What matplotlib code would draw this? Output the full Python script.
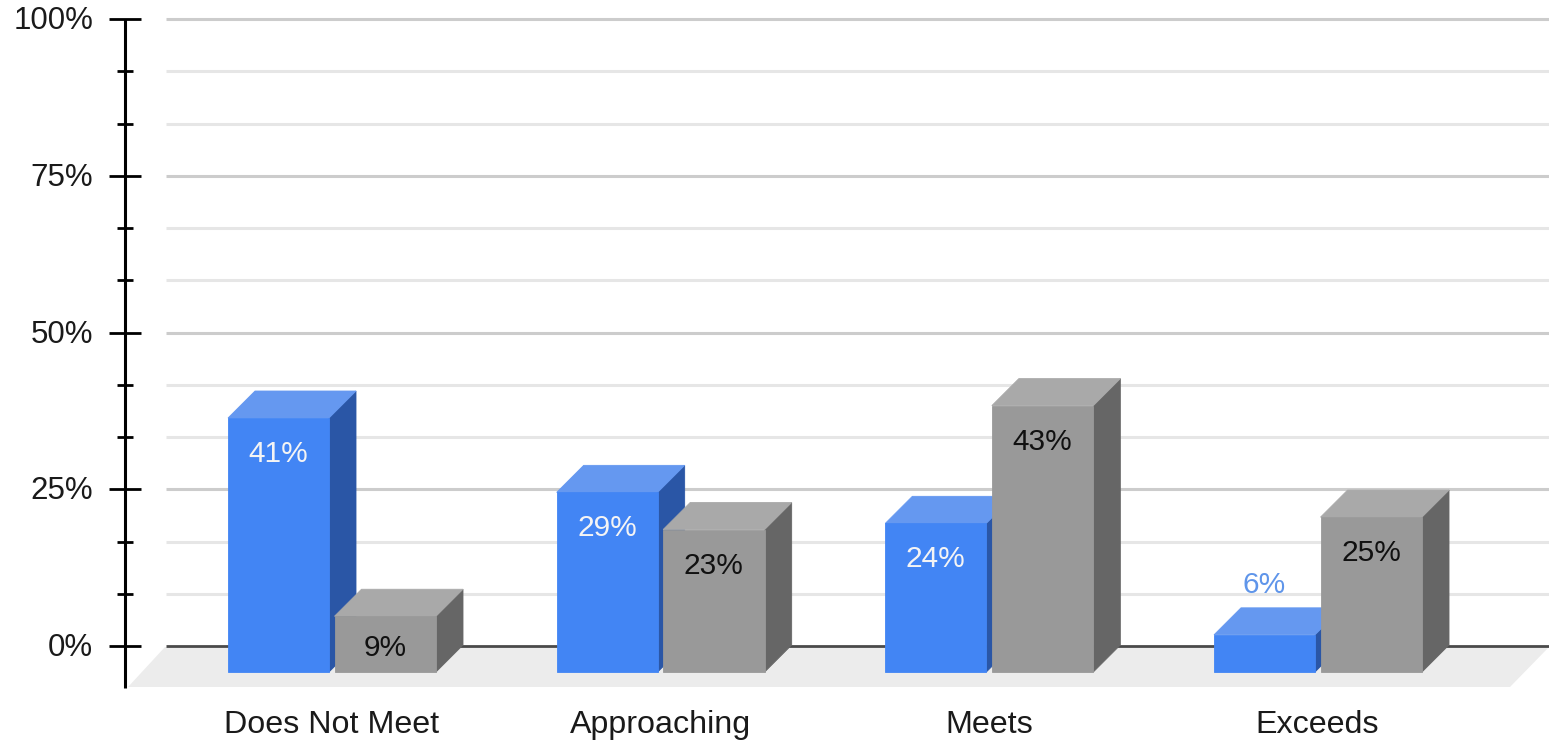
import matplotlib
matplotlib.use("Agg")
import matplotlib.pyplot as plt
from matplotlib.patches import Polygon

plt.rcParams['font.family'] = ['Liberation Sans', 'DejaVu Sans']

categories = ["Does Not Meet", "Approaching", "Meets", "Exceeds"]
series_a = [41, 29, 24, 6]
series_b = [9, 23, 43, 25]
major_ticks = [0, 25, 50, 75, 100]
grid_steps = [0, 100/12, 200/12, 25, 400/12, 500/12, 50, 700/12, 800/12, 75, 1000/12, 1100/12, 100]

W, H = 1549, 741
PX_PER_UNIT_Y = 6.27
PX_PER_GROUP = 328.67
X0_PX, Y0_PX = 331.5, 646.0

fig = plt.figure(figsize=(W/100, H/100), dpi=100, facecolor="white")
ax = fig.add_axes([0, 0, 1, 1])
ax.set_xlim(-X0_PX/PX_PER_GROUP, (W-X0_PX)/PX_PER_GROUP)
ax.set_ylim((Y0_PX-H)/PX_PER_UNIT_Y, Y0_PX/PX_PER_UNIT_Y)
ax.axis("off")

def dx(p):
    return p/PX_PER_GROUP

def dy(p):
    return p/PX_PER_UNIT_Y

# Depth offset of the extruded boxes and the front plane's slight foreshortening
DEPTH_X, DEPTH_Y = dx(27), dy(27)
BASE = dy(-26)
FRONT_SCALE = 0.988

# Floor
floor_top, floor_bot = dy(-1), dy(-41)
ax.add_patch(Polygon([(dx(165-X0_PX), floor_top), (dx(128-X0_PX), floor_bot),
                      (dx(1510-X0_PX), floor_bot), (dx(1549-X0_PX), floor_top)],
                     closed=True, fc="#ececec", ec="none", zorder=1))

# Gridlines
grid_x = [dx(166-X0_PX), dx(W-X0_PX)]
for v in grid_steps:
    if v == 0:
        ax.plot(grid_x, [v, v], color="#4a4a4a", lw=2.0, zorder=2, solid_capstyle="butt")
    elif v in major_ticks:
        ax.plot(grid_x, [v, v], color="#cccccc", lw=2.2, zorder=2, solid_capstyle="butt")
    else:
        ax.plot(grid_x, [v, v], color="#e6e6e6", lw=2.2, zorder=2, solid_capstyle="butt")

# Vertical axis with long ticks at labelled values
axis_x = dx(125-X0_PX)
ax.plot([axis_x, axis_x], [100, dy(-42)], color="black", lw=2.2, zorder=3, solid_capstyle="butt")
for v in grid_steps:
    half = 16 if v in major_ticks else 8
    ax.plot([axis_x-dx(half), axis_x+dx(half)], [v, v], color="black", lw=2.0, zorder=3,
            solid_capstyle="butt")
for v in major_ticks:
    ax.text(dx(93-X0_PX), v-dy(2), f"{v}%", ha="right", va="center", fontsize=22.5, color="#1a1a1a", zorder=6)

def face(points, color, z):
    # A thin same-coloured edge closes the antialiasing seams between faces
    ax.add_patch(Polygon(points, closed=True, fc=color, ec=color, lw=0.6, zorder=z))

def box(left, width, value, front, top, side, z):
    right = left+width
    t = BASE+value*FRONT_SCALE
    face([(right, BASE), (right+DEPTH_X, BASE+DEPTH_Y),
          (right+DEPTH_X, t+DEPTH_Y), (right, t)], side, z)
    face([(left, t), (left+DEPTH_X, t+DEPTH_Y),
          (right+DEPTH_X, t+DEPTH_Y), (right, t)], top, z)
    face([(left, BASE), (right, BASE), (right, t), (left, t)], front, z+0.1)
    return t

LEFT_A, WIDTH_A = dx(-103.5), dx(101)
LEFT_B, WIDTH_B = dx(3), dx(101.5)

for i, (name, a, b) in enumerate(zip(categories, series_a, series_b)):
    ta = box(i+LEFT_A, WIDTH_A, a, "#4285f4", "#6598f0", "#2a56a6", 4)
    tb = box(i+LEFT_B, WIDTH_B, b, "#999999", "#a9a9a9", "#666666", 5)
    cx_a = i+LEFT_A+WIDTH_A/2
    cx_b = i+LEFT_B+WIDTH_B/2
    if a >= 10:
        ax.text(cx_a, ta-dy(36), f"{a}%", ha="center", va="center", fontsize=21.5, color="#f4f4f4", zorder=6)
    else:
        ax.text(cx_a, ta+DEPTH_Y+dy(23), f"{a}%", ha="center", va="center", fontsize=21.5, color="#5f95ea", zorder=6)
    # Short bars keep their label nearer the top edge
    inset = 36 if b >= 10 else 32
    ax.text(cx_b, tb-dy(inset), f"{b}%", ha="center", va="center", fontsize=21.5, color="#111111", zorder=6)
    ax.text(i, dy(646-725), name, ha="center", va="center", fontsize=23.2, color="#1a1a1a", zorder=6)

fig.savefig("out.png", dpi=100, facecolor="white")
